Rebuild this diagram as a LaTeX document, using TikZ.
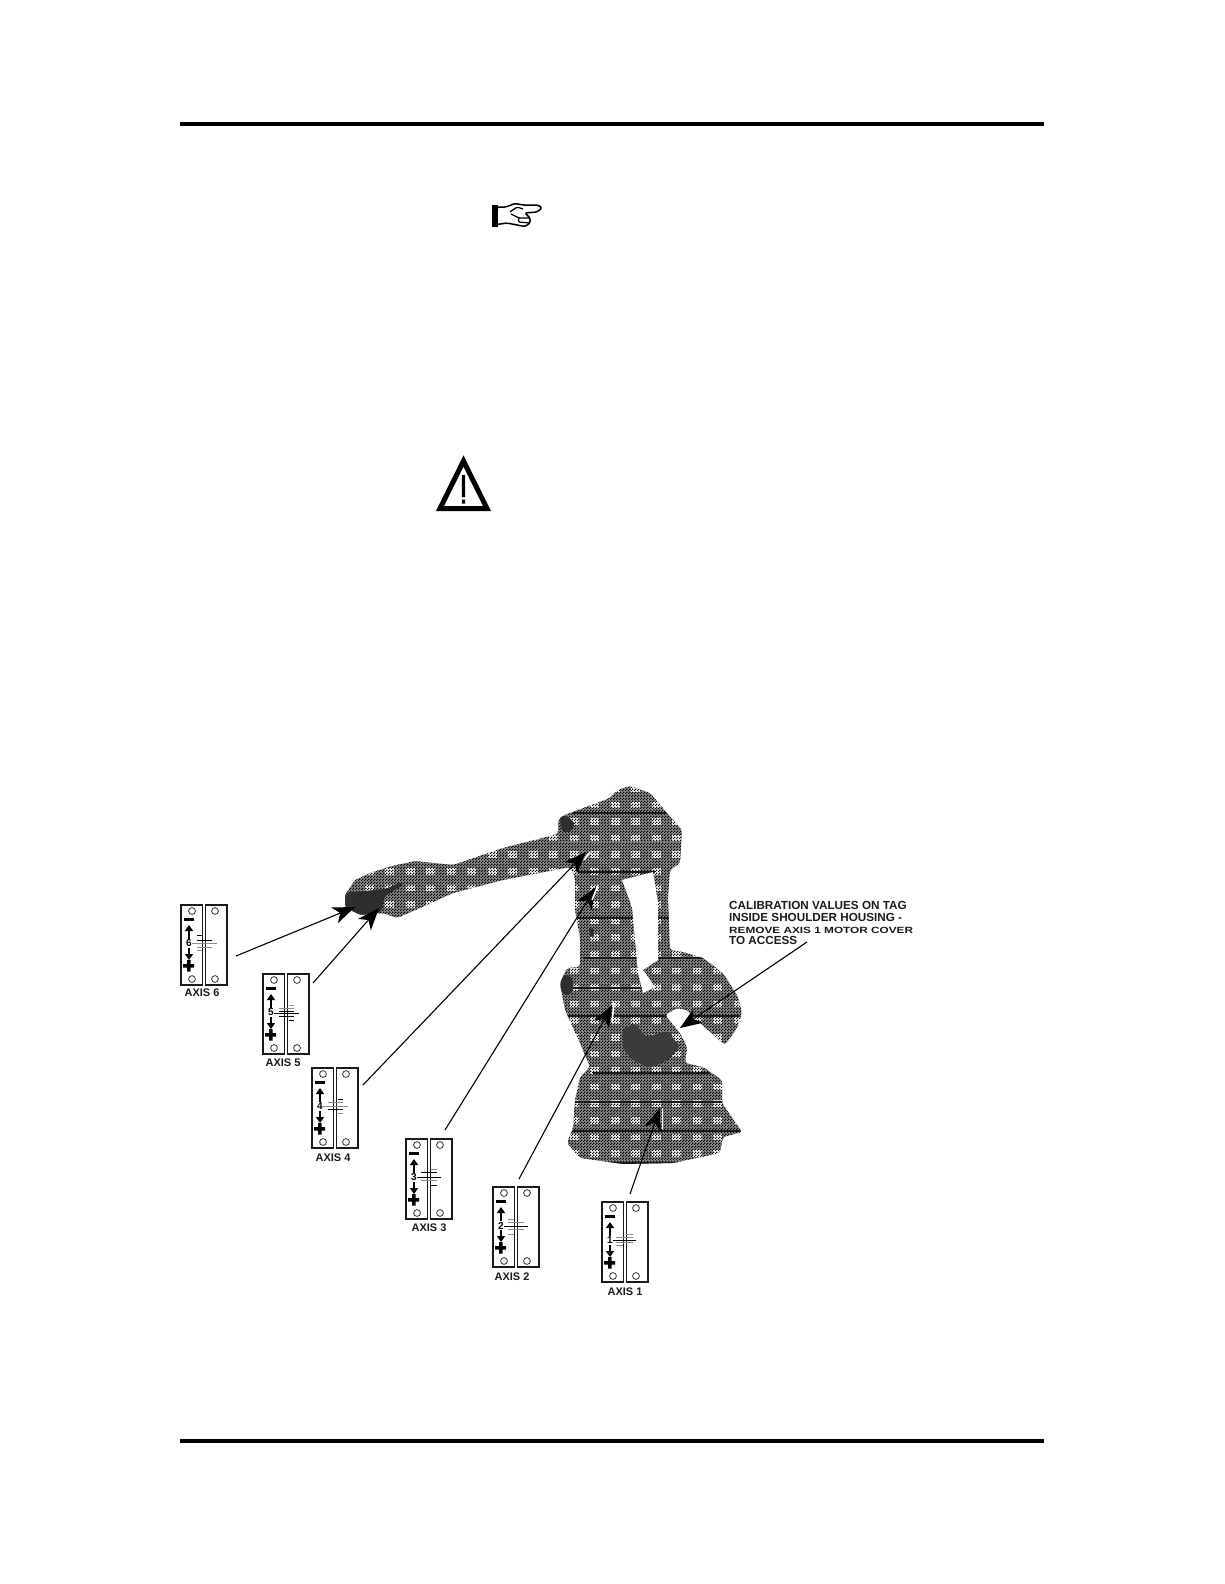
\documentclass[tikz,border=0pt]{standalone}
\usepackage{fontspec}
\setmainfont{Liberation Sans}
\usetikzlibrary{arrows.meta,patterns}
\definecolor{RBody}{HTML}{8C8C8C}
\definecolor{RBlock}{HTML}{FFFFFF}
\definecolor{RDark}{HTML}{2E2E2E}
\definecolor{RLine}{HTML}{1A1A1A}
\definecolor{RTick}{HTML}{8A8A8A}
\pgfdeclarepatternformonly{robotmesh}{\pgfqpoint{0pt}{0pt}}{\pgfqpoint{2.6pt}{2.6pt}}{\pgfqpoint{2.6pt}{2.6pt}}{%
  \pgfpathrectangle{\pgfqpoint{0pt}{0pt}}{\pgfqpoint{1.3pt}{1.3pt}}%
  \pgfpathrectangle{\pgfqpoint{1.3pt}{1.3pt}}{\pgfqpoint{1.3pt}{1.3pt}}%
  \pgfusepath{fill}}
\tikzset{
  rule/.style={black,line width=3.8pt},
  pointer/.style={-{Stealth[length=22pt,width=17pt,inset=6pt]},black,line width=1.1pt},
  glint/.style={white,line width=1.6pt},
  bodyline/.style={RLine,line width=1.2pt},
  plate/.style={draw=RLine,line width=1.2pt,fill=white},
  plug/.style={draw=RLine,line width=.7pt,fill=white},
  jog/.style={-{Triangle[length=6pt,width=8pt]},black,line width=2.6pt},
  axislabel/.style={font=\fontsize{11}{13}\selectfont\bfseries,text=RLine,inner sep=0pt},
  calibnote/.style={font=\fontsize{11.7}{11.6}\selectfont\bfseries,text=RLine,inner sep=0pt,align=left},
}
% outline of the robot, used for both the fill and the clip
\newcommand{\robotoutline}{
  (345,895)--(355,880)--(370,873)--(392,866)--(415,861)--(453,865)--(503,848)--(558,834)
  --(558,820)--(562,816)--(610,798)--(617,790)--(630,786)--(650,793)--(673,820)--(682,830)
  --(680,863)--(670,870)--(668,897)--(670,950)--(683,952)--(703,958)--(723,973)--(738,997)
  --(742,1013)--(737,1028)--(725,1045)--(700,1023)--(687,1010)--(677,1008)--(665,1015)
  --(680,1033)--(687,1047)--(685,1063)--(703,1067)--(722,1080)--(722,1103)--(742,1132)
  --(723,1137)--(720,1153)--(673,1163)--(623,1164)--(580,1158)--(567,1143)--(573,1128)
  --(575,1100)--(580,1077)--(590,1067)--(580,1043)--(565,1010)--(560,983)--(567,968)
  --(580,967)--(580,937)--(575,910)--(575,877)--(570,867)--(503,880)--(453,893)--(420,908)
  --(397,918)--(383,913)--(360,915)--(345,907)--cycle
}
\newcommand{\axisplate}[4]{%
  \begin{scope}[shift={(#1,#2)}]
    \draw[plate] (0,0) rectangle (21.5,80);
    \draw[plate] (24.5,0) rectangle (46,80);
    \foreach \px/\py in {11/6,34/6,11/74,34/74}
      \draw[plug] (\px,\py) circle (3.4);
    \fill[black] (3,12.5) rectangle (13,16);
    \draw[jog] (8,34)--(8,20);
    \draw[jog] (8,43)--(8,55);
    \fill[black] (2,59) rectangle (13,62.5) (6,55) rectangle (9.5,66.5);
    \foreach \xa/\xb/\ty/\tc in {#4}
      \draw[\tc,line width=.8pt] (\xa,\ty)--(\xb,\ty);
    \node[font=\fontsize{10}{11}\selectfont\bfseries,fill=white,inner sep=.3pt] at (8,38.5) {#3};
  \end{scope}%
}
\begin{document}
\begin{tikzpicture}[x=1pt,y=-1pt]
  \useasboundingbox (0,0) rectangle (1224,1584);
  \coordinate (ruleTopL) at (180,124);
  \coordinate (ruleTopR) at (1044,124);
  \coordinate (ruleBotL) at (180,1441);
  \coordinate (ruleBotR) at (1044,1441);
  \draw[rule] (ruleTopL)--(ruleTopR);
  \draw[rule] (ruleBotL)--(ruleBotR);

  % pointing hand
  \fill[black] (492,205) rectangle (498,226.5);
  \draw[black,line width=1.5pt,fill=white,rounded corners=1.5pt]
    (497,207)--(506,207)--(515,203.5)--(523,205)--(538,205)--(542,208)--(537,212)--(525,213)
    --(530,218)--(530,223)--(525,226.5)--(517,225)--(507,223)--(497,224.5)--cycle;
  \draw[black,line width=1.2pt,rounded corners=1.5pt]
    (510,212)--(517,207)--(523,209) (511,214)--(519,218)--(530,218) (519,218)--(518,222)--(530,223);

  % warning triangle
  \draw[black,line width=5pt,line join=miter,fill=white] (463.5,461)--(487,508.5)--(440,508.5)--cycle;
  \fill[black] (461.8,475) rectangle (465.2,497) (461.8,499.5) rectangle (465.2,503.5);

  % robot
  \fill[RBody,rounded corners=3pt] \robotoutline;
  \begin{scope}
    \clip[rounded corners=3pt] \robotoutline;
    \foreach \cx in {0,...,19}
      \foreach \cy in {0,...,23}
        \fill[RBlock] (364.5+20.5*\cx,785+16.6*\cy) rectangle ++(9,6.5);
    \fill[pattern=robotmesh,pattern color=black] (340,780) rectangle (745,1170);
    \foreach \lx/\ly/\lz in {573/813/667,578/872/655,577/918/673,583/958/713,563/988/643,567/1016/740,593/1073/710,575/1102/722,573/1131/742,606/1163/680}
      \draw[bodyline] (\lx,\ly)--(\lz,\ly);
    \draw[RLine!60,line width=.8pt] (558,841)--(682,841);
    % dark castings
    \fill[RDark,rounded corners=2pt] (345,893)--(385,889)--(402,882)--(403,885)--(385,896)--(381,912)--(360,916)--(345,908)--cycle;
    \fill[RDark!85!RBody,rounded corners=3pt] (622,1030)--(635,1023)--(645,1037)--(668,1031)--(680,1047)--(668,1060)--(650,1068)--(632,1060)--(623,1048)--cycle;
    \fill[RDark,rounded corners=2pt] (560,817)--(568,816)--(575,824)--(570,832)--(562,832)--cycle;
    \fill[RDark] (566.5,985) ellipse (7 and 10);
    \fill[RDark] (589,929)--(593,928)--(594,937)--(590,936)--cycle;
  \end{scope}
  % hole between the arms
  \fill[white] (622,880)--(653,872)--(658,903)--(658,960)--(643,970)--(655,987)--(643,993)--(638,973)--(632,907)--cycle;

  % axis plates
  \axisplate{181}{905}{6}{16/21/30/black,16/31/35/black,11/36/38/RTick,16/31/42/RTick,16/21/45/RTick}
  \axisplate{263}{974}{5}{26/31/31/RTick,16/31/34/RTick,16/31/37/black,11/36/39/black,16/31/42/black,26/31/46/black}
  \axisplate{312}{1068}{4}{26/31/31/black,16/31/34/RTick,11/36/38/RTick,16/31/41/black,26/31/45/RTick}
  \axisplate{406}{1139}{3}{25/31/30/RTick,15/31/33/black,10/35/38/black,15/31/41/RTick,25/31/46/black}
  \axisplate{493}{1187}{2}{15/21/32/RTick,15/31/35/RTick,11/35/39/black,15/31/42/RTick,15/21/47/RTick}
  \axisplate{602}{1202}{1}{24/31/32/RTick,14/31/35/RTick,11/34/38/black,14/31/40/RTick,14/21/43/RTick}

  \node[axislabel] (labelSix) at (202,993) {AXIS 6};
  \node[axislabel] (labelFive) at (283,1063) {AXIS 5};
  \node[axislabel] (labelFour) at (333,1158) {AXIS 4};
  \node[axislabel] (labelThree) at (429,1228) {AXIS 3};
  \node[axislabel] (labelTwo) at (512,1277) {AXIS 2};
  \node[axislabel] (labelOne) at (625,1292) {AXIS 1};

  \node[calibnote,anchor=north west] (calib) at (729,901.5)
    {CALIBRATION VALUES ON TAG\\INSIDE SHOULDER HOUSING -\\
     \scalebox{1.31}[1]{\fontsize{9}{11.6}\selectfont REMOVE AXIS 1 MOTOR COVER}\\TO ACCESS};

  % pointers
  \coordinate (tailSix) at (236,956);    \coordinate (tipSix) at (355,907);
  \coordinate (tailFive) at (313,983);   \coordinate (tipFive) at (379,908);
  \coordinate (tailFour) at (363,1085);  \coordinate (tipFour) at (586,852);
  \coordinate (tailThree) at (445,1130); \coordinate (tipThree) at (596,887);
  \coordinate (tailTwo) at (519,1179);   \coordinate (tipTwo) at (612,1005);
  \coordinate (tailOne) at (630,1194);   \coordinate (tipOne) at (660,1108);
  \coordinate (tailCalib) at (807,942);  \coordinate (tipCalib) at (680,1028);
  \foreach \tl/\tp in {tailSix/tipSix,tailFive/tipFive,tailFour/tipFour,tailThree/tipThree,tailTwo/tipTwo,tailOne/tipOne,tailCalib/tipCalib}
    \draw[pointer] (\tl)--(\tp);
  \coordinate (glintOneA) at (662.5,1129);  \coordinate (glintOneB) at (662.5,1108);
  \coordinate (glintTwoA) at (612,1022);    \coordinate (glintTwoB) at (614,1003);
  \coordinate (glintThreeA) at (592,900);   \coordinate (glintThreeB) at (598,885);
  \coordinate (glintFourA) at (584,860);    \coordinate (glintFourB) at (590,852);
  \foreach \ga/\gb in {glintOneA/glintOneB,glintTwoA/glintTwoB,glintThreeA/glintThreeB,glintFourA/glintFourB}
    \draw[glint] (\ga)--(\gb);
\end{tikzpicture}
\end{document}
